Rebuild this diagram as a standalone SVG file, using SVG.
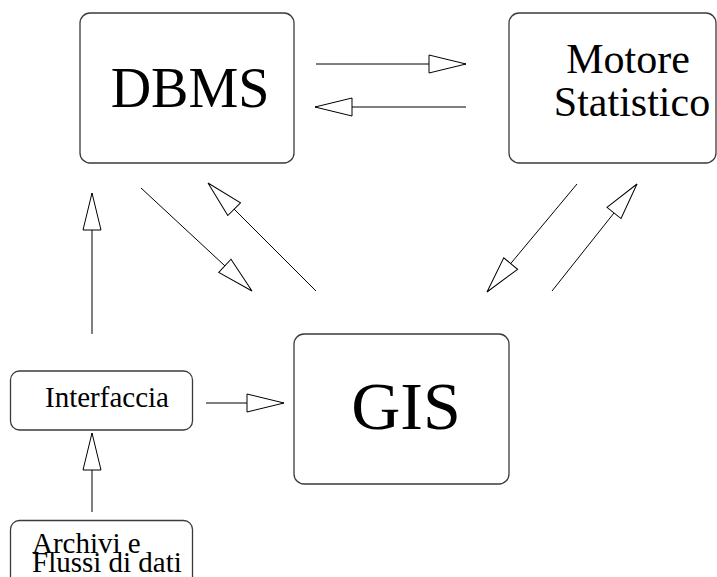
<svg xmlns="http://www.w3.org/2000/svg" width="717" height="577" viewBox="0 0 717 577">
  <style>
    .box { fill: #ffffff; stroke: #3a3a3a; stroke-width: 1.3; }
    .lbl { font-family: "Liberation Serif", "Times New Roman", serif; fill: #000000; }
    .conn { stroke: #000000; stroke-width: 1; fill: none; marker-end: url(#openHead); }
  </style>
  <defs>
    <!-- open triangular arrowhead, tip at the path end -->
    <marker id="openHead" markerUnits="userSpaceOnUse" markerWidth="40" markerHeight="22" viewBox="0 0 40 22" refX="38" refY="11" orient="auto">
      <path d="M1,2 L38,11 L1,20 Z" fill="#ffffff" stroke="#000000" stroke-width="1"/>
    </marker>
  </defs>
  <rect width="717" height="577" fill="#ffffff"/>

  <g id="dbms">
    <rect class="box" x="80" y="13" width="214" height="150" rx="10"/>
    <text class="lbl" x="190" y="107" font-size="56" text-anchor="middle">DBMS</text>
  </g>

  <g id="motore">
    <rect class="box" x="509" y="13" width="207" height="150" rx="10"/>
    <text class="lbl" font-size="42" text-anchor="middle"><tspan x="628" y="73">Motore</tspan><tspan x="632" y="116">Statistico</tspan></text>
  </g>

  <g id="gis">
    <rect class="box" x="294" y="334" width="215" height="150" rx="10"/>
    <text class="lbl" x="406" y="429" font-size="68" text-anchor="middle">GIS</text>
  </g>

  <g id="interfaccia">
    <rect class="box" x="10.5" y="371" width="182" height="59" rx="9"/>
    <text class="lbl" x="107" y="407" font-size="29" text-anchor="middle">Interfaccia</text>
  </g>

  <g id="archivi">
    <rect class="box" x="10.5" y="520.5" width="182" height="70" rx="9"/>
    <text class="lbl" font-size="29"><tspan x="32" y="553">Archivi e</tspan><tspan x="32" y="572">Flussi di dati</tspan></text>
  </g>

  <g id="connectors">
    <line class="conn" x1="316" y1="64" x2="466" y2="64"/>
    <line class="conn" x1="466" y1="107" x2="315" y2="107"/>
    <line class="conn" x1="141" y1="188" x2="252" y2="291"/>
    <line class="conn" x1="316" y1="291" x2="208" y2="183"/>
    <line class="conn" x1="577" y1="184" x2="487" y2="292"/>
    <line class="conn" x1="552" y1="291" x2="637" y2="184"/>
    <line class="conn" x1="92" y1="334" x2="92" y2="193"/>
    <line class="conn" x1="206" y1="403" x2="284" y2="403"/>
    <line class="conn" x1="92" y1="512" x2="92" y2="433"/>
  </g>
</svg>
